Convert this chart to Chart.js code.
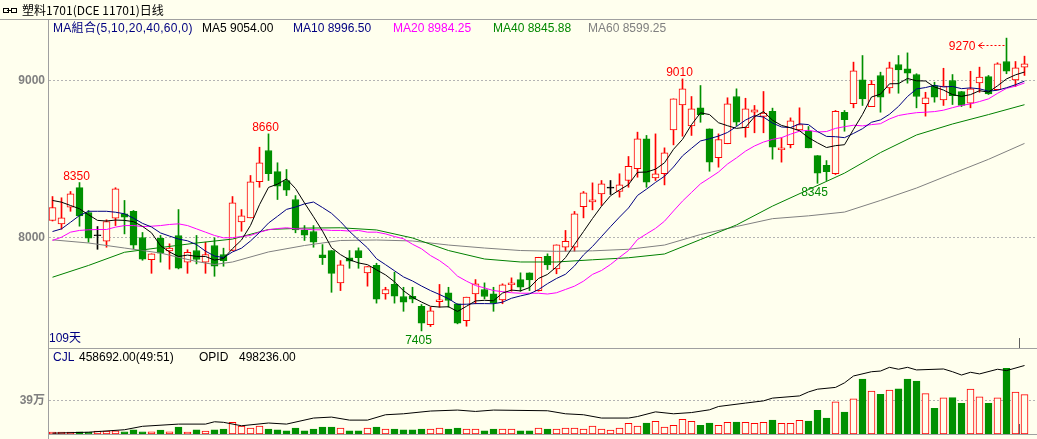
<!DOCTYPE html>
<html><head><meta charset="utf-8">
<script src="https://cdn.jsdelivr.net/npm/chart.js@4.4.0/dist/chart.umd.min.js"></script>
<style>
html,body{margin:0;padding:0;}
body{width:1037px;height:439px;overflow:hidden;position:relative;background:#FFFFEE;font-family:"Liberation Sans",Arial,"Noto Sans CJK SC",sans-serif;font-size:12px;}
.t{position:absolute;white-space:nowrap;line-height:14px;}
.ln{position:absolute;background:#a0a0a0;}
canvas{position:absolute;left:0;}
</style></head><body>
<canvas id="main" width="1037" height="328" style="top:20px;width:1037px;height:328px"></canvas>
<canvas id="vol" width="1037" height="85" style="top:349px;width:1037px;height:85px"></canvas>

<div class="ln" style="left:0;top:19px;width:1037px;height:1px"></div>
<div class="ln" style="left:48px;top:19px;width:1px;height:420px"></div>
<div class="ln" style="left:48px;top:348px;width:989px;height:1px"></div>
<div class="ln" style="left:48px;top:434px;width:989px;height:1px"></div>
<div class="ln" style="left:1019px;top:338px;width:1px;height:10px;background:#606060"></div>
<div class="ln" style="left:1019px;top:424px;width:1px;height:10px;background:#606060"></div>

<div style="position:absolute;left:3px;top:8px;width:4px;height:3px;border:1px solid #000"></div>
<div style="position:absolute;left:11px;top:8px;width:4px;height:3px;border:1px solid #000"></div>
<div style="position:absolute;left:7px;top:10px;width:5px;height:1px;background:#000"></div>
<div class="t" style="left:22px;top:3px;font-family:'Noto Sans CJK SC',sans-serif;color:#000">塑料1701(DCE 11701)日线</div>

<div class="t" style="left:53px;top:21px;color:#000080;letter-spacing:0.3px">MA組合(5,10,20,40,60,0)</div>
<div class="t" id="l5" style="left:202px;top:21px;color:#000000"></div>
<div class="t" id="l10" style="left:293px;top:21px;color:#000080"></div>
<div class="t" id="l20" style="left:393px;top:21px;color:#ff00ff"></div>
<div class="t" id="l40" style="left:493px;top:21px;color:#008800"></div>
<div class="t" id="l60" style="left:588px;top:21px;color:#808080"></div>

<div class="t" style="left:49px;top:331px;color:#000080">109天</div>

<div class="t" style="left:53px;top:350px;color:#000080">CJL</div>
<div class="t" id="cjl" style="left:79px;top:350px;color:#000"></div>
<div class="t" style="left:199px;top:350px;color:#000">OPID</div>
<div class="t" id="opid" style="left:239px;top:350px;color:#000"></div>

<script>
// ---------- data ----------
const opens = [8108,8087,8193,8318,8159,8011,7976,8123,8151,8166,
8000,7858,7994,7915,8013,7843,7917,7843,7949,7892,
7917,8100,8125,8355,8554,8420,8363,8242,8049,8038,
7890,7917,7711,7871,7917,7775,7822,7641,7701,7624,
7626,7562,7444,7592,7648,7578,7471,7641,7669,7641,
7603,7699,7732,7775,7662,7880,7800,7938,7938,8197,
8227,8278,8314,8293,8363,8438,8629,8380,8406,8686,
8845,8711,8826,8692,8508,8597,8898,8699,8798,8771,
8803,8559,8592,8686,8677,8522,8459,8406,8798,8852,
9004,8834,9032,8953,9102,9075,9038,8852,8968,8877,
9000,8930,8855,8985,9025,8941,9121,9004,9085];
const highs = [8261,8253,8293,8350,8172,8070,8113,8317,8236,8172,
8032,7896,8013,7960,8178,7922,8013,7970,7998,7932,
8261,8178,8395,8575,8660,8476,8433,8267,8076,8076,
7955,7917,7853,7917,7934,7815,7836,7683,7779,7683,
7683,7573,7556,7701,7683,7578,7620,7732,7711,7683,
7705,7743,7775,7775,7874,7896,7953,8045,8166,8293,
8348,8363,8363,8406,8516,8671,8650,8660,8571,8883,
9010,8898,8968,8692,8660,8890,8947,8887,8841,8930,
8824,8635,8762,8826,8707,8522,8490,8809,8809,9117,
9159,9000,9053,9117,9159,9176,9043,8925,8989,9078,
9038,8930,9059,9085,9032,9113,9270,9121,9155];
const lows = [8105,8053,8167,8072,7970,7925,7938,8076,8023,7928,
7855,7772,7843,7798,7800,7772,7832,7772,7753,7817,
7917,8040,8125,8320,8363,8242,8267,8030,7981,7938,
7828,7651,7662,7804,7804,7690,7582,7607,7582,7530,
7584,7405,7433,7556,7556,7450,7435,7578,7609,7530,
7578,7658,7658,7662,7658,7796,7769,7913,7913,8125,
8176,8204,8274,8257,8320,8384,8320,8363,8335,8590,
8645,8650,8734,8422,8448,8597,8713,8639,8667,8667,
8499,8480,8571,8682,8571,8345,8363,8401,8677,8826,
8841,8834,8798,8919,8919,8983,8826,8773,8862,8841,
8847,8834,8826,8925,8911,8941,9043,8962,9032];
const closes = [8191,8125,8278,8138,7995,8011,8102,8310,8129,7951,
7862,7896,7900,7932,7804,7906,7860,7892,7817,7853,
8221,8138,8355,8476,8406,8327,8301,8049,8015,7970,
7871,7772,7826,7849,7871,7815,7607,7669,7626,7588,
7607,7454,7533,7603,7599,7454,7620,7705,7624,7584,
7699,7711,7683,7730,7874,7826,7953,7976,8151,8285,
8240,8342,8314,8335,8454,8629,8352,8406,8539,8883,
8947,8820,8783,8480,8624,8852,8734,8820,8813,8792,
8575,8571,8743,8720,8571,8410,8420,8804,8750,9062,
8883,8975,8894,9081,9068,9047,8898,8890,8894,8964,
8904,8841,8947,9021,8915,9106,9059,9081,9106];

const ma5 = [8236,8225,8204,8183,
8145,8109,8105,8111,8109,8101,8071,8030,7948,7908,
7879,7888,7880,7879,7856,7866,7929,7984,8077,8209,
8319,8340,8373,8312,8220,8132,8041,7935,7891,7858,
7838,7827,7794,7762,7718,7661,7619,7589,7562,7557,
7559,7529,7562,7596,7600,7597,7646,7665,7660,7681,
7739,7765,7813,7872,7956,8038,8121,8199,8266,8303,
8337,8415,8417,8435,8476,8562,8625,8719,8794,8783,
8731,8712,8695,8702,8769,8802,8747,8714,8699,8680,
8636,8603,8573,8585,8591,8689,8784,8895,8913,8979,
8980,9013,8998,8997,8959,8939,8910,8899,8910,8935,
8926,8966,9010,9036,9054];
const ma10 = [8038,8055,8097,8140,8167,8167,8167,8161,8151,
8123,8090,8067,8029,8009,7990,7979,7955,7913,7882,
7872,7908,7932,7978,8032,8092,8135,8179,8194,8214,
8226,8191,8154,8101,8039,7985,7934,7865,7827,7788,
7749,7723,7691,7662,7637,7610,7574,7575,7579,7579,
7578,7588,7613,7628,7641,7668,7706,7739,7766,7819,
7889,7943,8006,8069,8130,8188,8268,8308,8351,8390,
8449,8520,8568,8615,8629,8646,8669,8707,8748,8776,
8767,8729,8704,8700,8724,8719,8675,8644,8642,8636,
8663,8693,8734,8749,8785,8835,8898,8946,8955,8969,
8959,8962,8948,8953,8947,8932,8938,8954,8973,8996.5];
const ma20 = [7981,8002,8034,8045,8049,8051,8051,8066,8076,8076,8070,8072,8076,8083,8087,8076,8055,8034,8013,
7998,7999,8006,8013,8034,8049,8057,8062,8055,8054,8049,
8049,8045,8045,8041,8045,8034,8034,8023,8006,7992,
7957,7928,7885,7853,7811,7754,7722,7694,7679,7662,
7655,7648,7645,7645,7645,7640,7648,7669,7690,7722,
7765,7790,7828,7874,7917,7987,8023,8058,8104,8169,
8232,8287,8342,8379,8417,8468,8507,8550,8583,8608,
8625,8636,8658,8677,8683,8672,8675,8695,8706,8715,
8711,8719,8725,8755,8777,8787,8795,8798,8802,8811,
8827,8841,8851,8866,8883,8918,8950,8964,8984.25];
const ma40Idx = [0,4,8,12,16,20,24,28,32,36,40,44,48,52,56,60,64,68,72,76,80,84,88,92,96,100,104,108];
const ma40 = [7747,7822,7906,7936,7965,7990,8051,8060,8062,8048,7997,7917,7863,7844,7844,7858,7871,7895,7987,8080,8200,8305,8410,8541,8653,8723,8783,8845.88];
const ma60Idx = [0,4,8,12,16,18,20,24,28,32,36,40,44,48,52,56,60,64,68,72,76,80,84,88,92,96,100,104,108];
const ma60 = [7985,7965,7933,7901,7847,7828,7844,7908,7949,7981,7984,7978,7952,7933,7917,7912,7915,7925,7952,8019,8070,8120,8138,8162,8236,8315,8407,8498,8599.25];

const vols = [23000,23000,23000,26000,23000,34000,34000,37000,26000,49000,
26000,26000,45000,26000,80000,23000,49000,34000,49000,57000,
136000,91000,68000,91000,57000,49000,37000,68000,37000,57000,
80000,80000,68000,37000,37000,68000,80000,57000,57000,49000,
49000,57000,57000,68000,57000,68000,57000,57000,37000,57000,
57000,57000,38000,38000,68000,57000,57000,68000,68000,57000,
91000,57000,45000,68000,125000,91000,128000,148000,80000,102000,
171000,148000,102000,128000,102000,136000,140000,136000,125000,136000,
163000,125000,125000,159000,151000,276000,185000,375000,254000,409000,
640000,500000,462000,512000,526000,640000,617000,470000,299000,421000,
424000,356000,523000,432000,356000,421000,765000,489000,458692];
const opidIdx = [0,4,8,10,14,17,18,19,21,24,26,29,31,33,35,37,39,42,45,47,49,55,57,59,61,64,65,67,69,71,73,74,77,79,80,83,84,85,87,88,89,91,92,93,94,95,96,99,100,101,102,103,105,106,108];
const opid = [6000,13000,31000,56000,72000,72000,89000,85000,60000,80000,72000,116000,123000,101000,101000,140000,147000,167000,174000,164000,174000,169000,147000,140000,116000,116000,127000,161000,147000,156000,176000,200000,225000,241000,261000,277000,306000,326000,339000,372000,422000,453000,458000,485000,471000,485000,466000,473000,453000,429000,449000,437000,471000,461000,498236];

const priceTicks = [8000, 9000];
const priceTickLabels = ['8000', '9000'];
const volTicks = [390000];
const volTickLabels = ['39万'];
const highMarks = [3, 24, 70];
const lowMarks = [41, 85];
const topMark = 106;
const cjlRatio = '(49:51)';

// ---------- header texts ----------
document.getElementById('l5').textContent = 'MA5 ' + ma5[ma5.length-1].toFixed(2);
document.getElementById('l10').textContent = 'MA10 ' + ma10[ma10.length-1].toFixed(2);
document.getElementById('l20').textContent = 'MA20 ' + ma20[ma20.length-1].toFixed(2);
document.getElementById('l40').textContent = 'MA40 ' + ma40[ma40.length-1].toFixed(2);
document.getElementById('l60').textContent = 'MA60 ' + ma60[ma60.length-1].toFixed(2);
document.getElementById('cjl').textContent = vols[vols.length-1].toFixed(2) + cjlRatio;
document.getElementById('opid').textContent = opid[opid.length-1].toFixed(2);

// ---------- styling ----------
const RED = '#ff0000', GREEN = '#009000', BG = '#ffffee', BLACK = '#000000';
const N = closes.length;
const idx = Array.from({length: N}, (_, i) => i);
const colorOf = i => closes[i] > opens[i] ? RED : (closes[i] < opens[i] ? GREEN : BLACK);
const volColorOf = i => closes[i] >= opens[i] ? RED : GREEN;

const PLOT_W = 988, STEP = 9;
const xMin = -3.5 / STEP, xMax = xMin + PLOT_W / STEP;
const PPP = 0.157;              // px per price point
const yMax = 9000 + 60.5 / PPP;
const yMin = yMax - 328 / PPP;
const volK = 390000 / 33.5;     // volume per px
const opK = 498236 / 68.5;

function yAxis(min, max, ticks) {
  return {
    type: 'linear', position: 'left', min, max,
    afterFit(s) { s.width = 49; s.paddingTop = 0; s.paddingBottom = 0; },
    afterBuildTicks(s) { s.ticks = ticks.map(v => ({value: v})); },
    ticks: {display: false},
    grid: {color: '#b4b4b4', drawTicks: false, lineWidth: 1},
    border: {display: false, dash: [2, 2]}
  };
}
const lineDs = (pts, color) => ({type: 'line', data: pts, borderColor: color, borderWidth: 1,
  pointRadius: 0, tension: 0, fill: false, order: 0});

function axisLabelsPlugin(ticks, labels) {
  return {
    id: 'axisLabels',
    afterDraw(chart) {
      const ctx = chart.ctx, ys = chart.scales.y;
      ctx.save();
      ctx.font = 'bold 12px "Liberation Sans", "Noto Sans CJK SC"';
      ctx.fillStyle = '#808080';
      ctx.textAlign = 'right';
      ctx.textBaseline = 'middle';
      ticks.forEach((v, k) => ctx.fillText(labels[k], 45, ys.getPixelForValue(v)));
      ctx.restore();
    }
  };
}

const marksPlugin = {
  id: 'marks',
  afterDatasetsDraw(chart) {
    const ctx = chart.ctx, xs = chart.scales.x, ys = chart.scales.y;
    ctx.save();
    ctx.font = '12px "Liberation Sans"';
    ctx.textAlign = 'center';
    ctx.textBaseline = 'alphabetic';
    ctx.fillStyle = RED;
    highMarks.forEach(i => {
      ctx.fillText(String(highs[i]), xs.getPixelForValue(i) - 3, ys.getPixelForValue(highs[i]) - 3);
    });
    ctx.fillStyle = '#008800';
    lowMarks.forEach(i => {
      ctx.fillText(String(lows[i]), xs.getPixelForValue(i) - 3, ys.getPixelForValue(lows[i]) + 13);
    });
    const tx = xs.getPixelForValue(topMark), ty = ys.getPixelForValue(highs[topMark]);
    const ay = Math.round(ty + 7) + 0.5;
    ctx.fillStyle = RED;
    ctx.textAlign = 'right';
    ctx.fillText(String(highs[topMark]), tx - 31, ty + 12);
    ctx.strokeStyle = RED; ctx.lineWidth = 1;
    ctx.setLineDash([2, 2]);
    ctx.beginPath(); ctx.moveTo(tx - 24, ay); ctx.lineTo(tx - 1, ay); ctx.stroke();
    ctx.setLineDash([]);
    ctx.beginPath(); ctx.moveTo(tx - 24, ay - 3); ctx.lineTo(tx - 28, ay); ctx.lineTo(tx - 24, ay + 3); ctx.stroke();
    ctx.beginPath(); ctx.moveTo(tx - 28, ay); ctx.lineTo(tx - 24, ay); ctx.stroke();
    ctx.restore();
  }
};

const common = {
  responsive: false, animation: false, events: [], devicePixelRatio: 1,
  layout: {padding: 0, autoPadding: false},
  plugins: {legend: {display: false}, tooltip: {enabled: false}}
};

new Chart(document.getElementById('main'), {
  type: 'bar',
  data: {datasets: [
    lineDs(ma5.map((v, i) => ({x: i, y: v})), '#000000'),
    lineDs(ma10.map((v, i) => ({x: i, y: v})), '#000080'),
    lineDs(ma20.map((v, i) => ({x: i, y: v})), '#ff00ff'),
    lineDs(ma40Idx.map((i, k) => ({x: i, y: ma40[k]})), '#008000'),
    lineDs(ma60Idx.map((i, k) => ({x: i, y: ma60[k]})), '#808080'),
    {type: 'bar', data: idx.map(i => ({x: i, y: [opens[i], closes[i]]})),
      backgroundColor: idx.map(i => colorOf(i) === RED ? BG : colorOf(i)),
      borderColor: idx.map(colorOf), borderWidth: 1, borderSkipped: false,
      barThickness: 7, grouped: false, minBarLength: 1, order: 1},
    {type: 'bar', data: idx.map(i => ({x: i, y: [lows[i], highs[i]]})),
      backgroundColor: idx.map(colorOf), borderWidth: 0,
      barThickness: 1, grouped: false, order: 2}
  ]},
  options: Object.assign({}, common, {
    scales: {
      x: {type: 'linear', min: xMin, max: xMax, display: false, offset: false},
      y: yAxis(yMin, yMax, priceTicks)
    }
  }),
  plugins: [marksPlugin, axisLabelsPlugin(priceTicks, priceTickLabels)]
});

new Chart(document.getElementById('vol'), {
  type: 'bar',
  data: {datasets: [
    Object.assign(lineDs(opidIdx.map((i, k) => ({x: i, y: opid[k]})), '#000000'), {yAxisID: 'y2'}),
    {type: 'bar', data: idx.map(i => ({x: i, y: vols[i]})),
      backgroundColor: idx.map(i => volColorOf(i) === RED ? BG : GREEN),
      borderColor: idx.map(volColorOf), borderWidth: 1, borderSkipped: false,
      barThickness: 7, grouped: false, order: 1}
  ]},
  options: Object.assign({}, common, {
    scales: {
      x: {type: 'linear', min: xMin, max: xMax, display: false, offset: false},
      y: yAxis(0, 85 * volK, volTicks),
      y2: {type: 'linear', display: false, min: 0, max: 85 * opK}
    }
  }),
  plugins: [axisLabelsPlugin(volTicks, volTickLabels)]
});
</script>
</body></html>
